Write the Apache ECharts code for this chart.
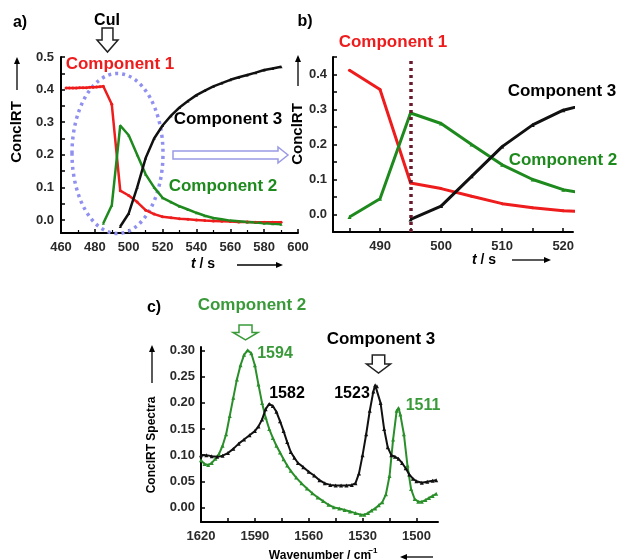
<!DOCTYPE html>
<html>
<head>
<meta charset="utf-8">
<script src="https://cdn.jsdelivr.net/npm/echarts@6/dist/echarts.min.js"></script>
<style>
html,body{margin:0;padding:0;background:#fff;}
#main{width:620px;height:560px;}
</style>
</head>
<body>
<div id="main"></div>
<script>
// a) ConclRT vs time
var aRedTime = [463,465,467,469,471,473,475,477,479,481,483,485,490,495,500,505,510,515,520,525,530,535,540,545,550,555,560,565,570,575,580,585,590];
var aRedConc = [0.405,0.405,0.405,0.405,0.406,0.406,0.406,0.407,0.407,0.408,0.409,0.41,0.355,0.09,0.075,0.055,0.03,0.018,0.01,0.007,0.004,0.002,0.0,-0.002,-0.003,-0.004,-0.005,-0.006,-0.006,-0.007,-0.007,-0.007,-0.007];
var aGreenTime = [485,490,495,500,505,510,515,520,525,530,535,540,545,550,555,560,565,570,575,580,585,590];
var aGreenConc = [-0.01,0.045,0.29,0.26,0.2,0.14,0.1,0.068,0.055,0.042,0.032,0.022,0.013,0.006,0.002,-0.002,-0.004,-0.006,-0.008,-0.01,-0.012,-0.013];
var aBlackTime = [495,500,505,510,515,520,525,530,535,540,545,550,555,560,565,570,575,580,585,590];
var aBlackConc = [-0.02,0.02,0.1,0.19,0.25,0.29,0.32,0.345,0.365,0.383,0.397,0.41,0.42,0.43,0.438,0.445,0.452,0.46,0.465,0.47];

// b) zoom 485-522 s
var bTime = [485,490,495,500,505,510,515,520,525];
var bRedConc = [0.412,0.357,0.09,0.074,0.052,0.031,0.019,0.011,0.007];
var bGreenConc = [-0.007,0.045,0.29,0.26,0.2,0.142,0.1,0.071,0.055];
var bBlackTime = [495,500,505,510,515,520,525];
var bBlackConc = [-0.014,0.024,0.109,0.194,0.256,0.298,0.32];

// c) spectra
var cGreenWave = [1620,1618,1616,1614,1612,1610,1608,1606,1604,1602,1600,1598,1596,1594,1592,1590,1588,1586,1584,1582,1580,1578,1576,1574,1572,1570,1567,1564,1561,1558,1555,1552,1549,1546,1543,1540,1537,1534,1531,1529,1527,1525,1523,1521,1519,1517,1515,1513,1511,1510,1509,1507,1505,1503,1501,1499,1497,1495,1493,1491,1489];
var cGreenVal = [0.09,0.083,0.081,0.085,0.093,0.102,0.118,0.14,0.175,0.21,0.245,0.272,0.292,0.301,0.295,0.272,0.235,0.2,0.172,0.15,0.133,0.118,0.105,0.092,0.08,0.07,0.057,0.046,0.036,0.027,0.019,0.012,0.005,0.0,-0.002,-0.005,-0.008,-0.011,-0.014,-0.014,-0.011,-0.006,-0.002,0.004,0.01,0.025,0.06,0.13,0.185,0.19,0.178,0.14,0.08,0.035,0.016,0.011,0.011,0.014,0.018,0.022,0.026];
var cBlackWave = [1620,1617,1614,1611,1608,1605,1602,1599,1596,1593,1590,1588,1586,1584,1582,1580,1578,1576,1574,1572,1570,1568,1566,1563,1560,1557,1554,1551,1548,1545,1542,1539,1536,1534,1532,1530,1528,1526,1524,1523,1522,1520,1518,1516,1514,1512,1510,1508,1506,1504,1502,1500,1497,1494,1491,1489];
var cBlackVal = [0.1,0.1,0.098,0.097,0.099,0.104,0.112,0.122,0.13,0.138,0.146,0.155,0.168,0.188,0.198,0.194,0.183,0.165,0.146,0.125,0.106,0.095,0.085,0.077,0.068,0.061,0.052,0.046,0.043,0.042,0.042,0.042,0.043,0.046,0.065,0.1,0.14,0.185,0.222,0.234,0.232,0.2,0.15,0.115,0.1,0.097,0.093,0.085,0.075,0.063,0.055,0.05,0.047,0.049,0.051,0.052];

var aYLabels = [0,0.1,0.2,0.3,0.4,0.5];
var aYTicks = [0,0.05,0.1,0.15,0.2,0.25,0.3,0.35,0.4,0.45,0.5];
var bXLabels = [490,500,510,520];
var bXTicks = [485,490,495,500,505,510,515,520];
var bYLabels = [0,0.1,0.2,0.3,0.4];
var bYTicks = [-0.05,0,0.05,0.1,0.15,0.2,0.25,0.3,0.35,0.4,0.45];
var cXLabels = [1620,1590,1560,1530,1500];
var cXTicks = [1620,1605,1590,1575,1560,1545,1530,1515,1500];
var cYLabels = [0,0.05,0.1,0.15,0.2,0.25,0.3];

var FONT = '"Liberation Sans", Arial, sans-serif';
var RED = '#ee1c1c', GREEN = '#1e8a1e', BLACK = '#111';

function pairs(xs, ys){
	var out = [];
	for(var i=0;i<xs.length;i++){
		out.push([xs[i], ys[i]]);
	}
	return out;
}

function axisBase(extra){
	var o = {
		type: 'value',
		axisLine: {show: true, onZero: false, lineStyle: {color: '#000', width: 2}},
		axisTick: {show: true, inside: true, length: 4, lineStyle: {color: '#000', width: 1.5}},
		axisLabel: {color: '#2a2a2a', fontFamily: FONT, fontWeight: 'bold', fontSize: 13, margin: 8,
			formatter: function(v){ return String(v); }},
		splitLine: {show: false}
	};
	for(var k in extra){
		if(typeof extra[k] === 'object' && o[k] && !Array.isArray(extra[k])){
			for(var j in extra[k]) o[k][j] = extra[k][j];
		}else{
			o[k] = extra[k];
		}
	}
	return o;
}

function txt(x, y, s, size, color, rot){
	return {
		type: 'text', x: x, y: y, rotation: rot || 0, z: 10,
		style: {text: s, font: 'bold ' + size + 'px ' + FONT, fill: color, align: 'center', verticalAlign: 'middle',
			rich: {i: {font: 'italic bold ' + size + 'px ' + FONT, fill: color}}}
	};
}

// hollow block arrow pointing down
function downArrow(cx, top, w, h, color){
	var sw = w * 0.52, hh = h * 0.5;
	return {
		type: 'polygon', z: 10,
		shape: {points: [[cx-sw/2,top],[cx+sw/2,top],[cx+sw/2,top+hh],[cx+w/2,top+hh],[cx,top+h],[cx-w/2,top+hh],[cx-sw/2,top+hh]]},
		style: {fill: '#fff', stroke: color, lineWidth: 1.5}
	};
}

// thin line arrow with filled head at (x2,y2)
function lineArrow(x1, y1, x2, y2){
	var ang = Math.atan2(y2-y1, x2-x1), L = 7, W = 3;
	var bx = x2 - L*Math.cos(ang), by = y2 - L*Math.sin(ang);
	var px = -Math.sin(ang)*W, py = Math.cos(ang)*W;
	return {
		type: 'group', z: 10,
		children: [
			{type: 'line', shape: {x1: x1, y1: y1, x2: bx, y2: by}, style: {stroke: '#000', lineWidth: 1.3}},
			{type: 'polygon', shape: {points: [[x2,y2],[bx+px,by+py],[bx-px,by-py]]}, style: {fill: '#000'}}
		]
	};
}

function lineSeries(xi, data, color, width, symbol, size){
	return {
		type: 'line', xAxisIndex: xi, yAxisIndex: xi, data: data,
		color: color, symbol: symbol, symbolSize: size, showSymbol: true,
		lineStyle: {width: width, color: color},
		itemStyle: {color: color},
		clip: true, z: 3
	};
}

var myChart = echarts.init(document.getElementById('main'));

var fmt1 = function(v){ return v.toFixed(1); };
var fmt2 = function(v){ return v.toFixed(2); };

var bRed = lineSeries(1, pairs(bTime, bRedConc), RED, 3, 'circle', 3);
bRed.markLine = {
	silent: true, symbol: ['none','none'], label: {show: false},
	lineStyle: {color: '#6a1a2c', type: [3,4], width: 3.5},
	data: [{xAxis: 495}]
};

var option = {
	animation: false,
	backgroundColor: '#fff',
	grid: [
		{left: 61, top: 57, width: 237, height: 176},
		{left: 333, top: 57, width: 240, height: 175},
		{left: 201, top: 347, width: 237, height: 175}
	],
	xAxis: [
		axisBase({gridIndex: 0, min: 460, max: 600, interval: 20,
			minorTick: {show: true, splitNumber: 2, length: 3, lineStyle: {color: '#000', width: 1.2}}}),
		axisBase({gridIndex: 1, min: 482.3, max: 521.6,
			axisLabel: {customValues: bXLabels}, axisTick: {customValues: bXTicks}}),
		axisBase({gridIndex: 2, min: 1488, max: 1620, inverse: true,
			axisLabel: {customValues: cXLabels}, axisTick: {customValues: cXTicks}})
	],
	yAxis: [
		axisBase({gridIndex: 0, min: -0.04, max: 0.5,
			axisLabel: {customValues: aYLabels, formatter: fmt1, margin: 7}, axisTick: {customValues: aYTicks}}),
		axisBase({gridIndex: 1, min: -0.05, max: 0.45,
			axisLabel: {customValues: bYLabels, formatter: fmt1, margin: 6}, axisTick: {customValues: bYTicks}}),
		axisBase({gridIndex: 2, min: -0.028, max: 0.307,
			axisLabel: {customValues: cYLabels, formatter: fmt2, margin: 6}, axisTick: {customValues: cYLabels}})
	],
	series: [
		lineSeries(0, pairs(aRedTime, aRedConc), RED, 2.5, 'circle', 3),
		lineSeries(0, pairs(aGreenTime, aGreenConc), GREEN, 2.5, 'triangle', 3),
		lineSeries(0, pairs(aBlackTime, aBlackConc), BLACK, 2.5, 'triangle', 3),
		bRed,
		lineSeries(1, pairs(bTime, bGreenConc), GREEN, 3, 'triangle', 4),
		lineSeries(1, pairs(bBlackTime, bBlackConc), BLACK, 3, 'triangle', 4),
		lineSeries(2, pairs(cGreenWave, cGreenVal), '#2a8f2a', 2, 'triangle', 4),
		lineSeries(2, pairs(cBlackWave, cBlackVal), BLACK, 2, 'triangle', 4)
	],
	graphic: [
		// panel a
		txt(20, 23, 'a)', 16, '#000'),
		txt(107, 21, 'CuI', 16, '#000'),
		downArrow(107.5, 28, 21, 24, '#222'),
		txt(120, 64, 'Component 1', 17, RED),
		txt(228, 119, 'Component 3', 17, '#000'),
		txt(223, 186, 'Component 2', 17, GREEN),
		{type: 'ellipse', z: 1, shape: {cx: 117.5, cy: 153.5, rx: 45.5, ry: 80},
			style: {fill: 'none', stroke: '#9090f0', lineWidth: 3.5, lineDash: [3,4]}},
		{type: 'polygon', z: 10,
			shape: {points: [[173,151],[278,151],[278,147],[288,155],[278,163],[278,159],[173,159]]},
			style: {fill: '#fff', stroke: '#9a9ae6', lineWidth: 1.5}},
		txt(17, 132, 'ConclRT', 15, '#000', Math.PI/2),
		lineArrow(17, 90, 17, 57),
		txt(203, 264, '{i|t} / s', 14, '#000'),
		lineArrow(237, 265, 283, 265),
		// panel b
		txt(305, 22, 'b)', 16, '#000'),
		txt(393, 42, 'Component 1', 17, RED),
		txt(562, 91, 'Component 3', 17, '#000'),
		txt(563, 160, 'Component 2', 17, GREEN),
		txt(298, 134, 'ConclRT', 15, '#000', Math.PI/2),
		lineArrow(298, 86, 298, 55),
		txt(484, 260, '{i|t} / s', 14, '#000'),
		lineArrow(512, 260, 551, 260),
		// panel c
		txt(154, 308, 'c)', 16, '#000'),
		txt(252, 305, 'Component 2', 17, '#3a9a3a'),
		downArrow(245.5, 325, 25, 15, '#3a9a3a'),
		txt(275, 354, '1594', 16, '#3a9a3a'),
		txt(381, 339, 'Component 3', 17, '#000'),
		downArrow(378.5, 355, 24, 18, '#222'),
		txt(287, 394, '1582', 16, '#000'),
		txt(352, 394, '1523', 16, '#000'),
		txt(423, 406, '1511', 16, '#3a9a3a'),
		txt(152, 445, 'ConclRT Spectra', 12, '#000', Math.PI/2),
		lineArrow(152, 383, 152, 345),
		txt(320, 556, 'Wavenumber / cm', 12, '#000'),
		txt(373, 551, '\u22121', 8, '#000'),
		lineArrow(433, 557, 400, 557)
	]
};
myChart.setOption(option);
</script>
</body>
</html>
